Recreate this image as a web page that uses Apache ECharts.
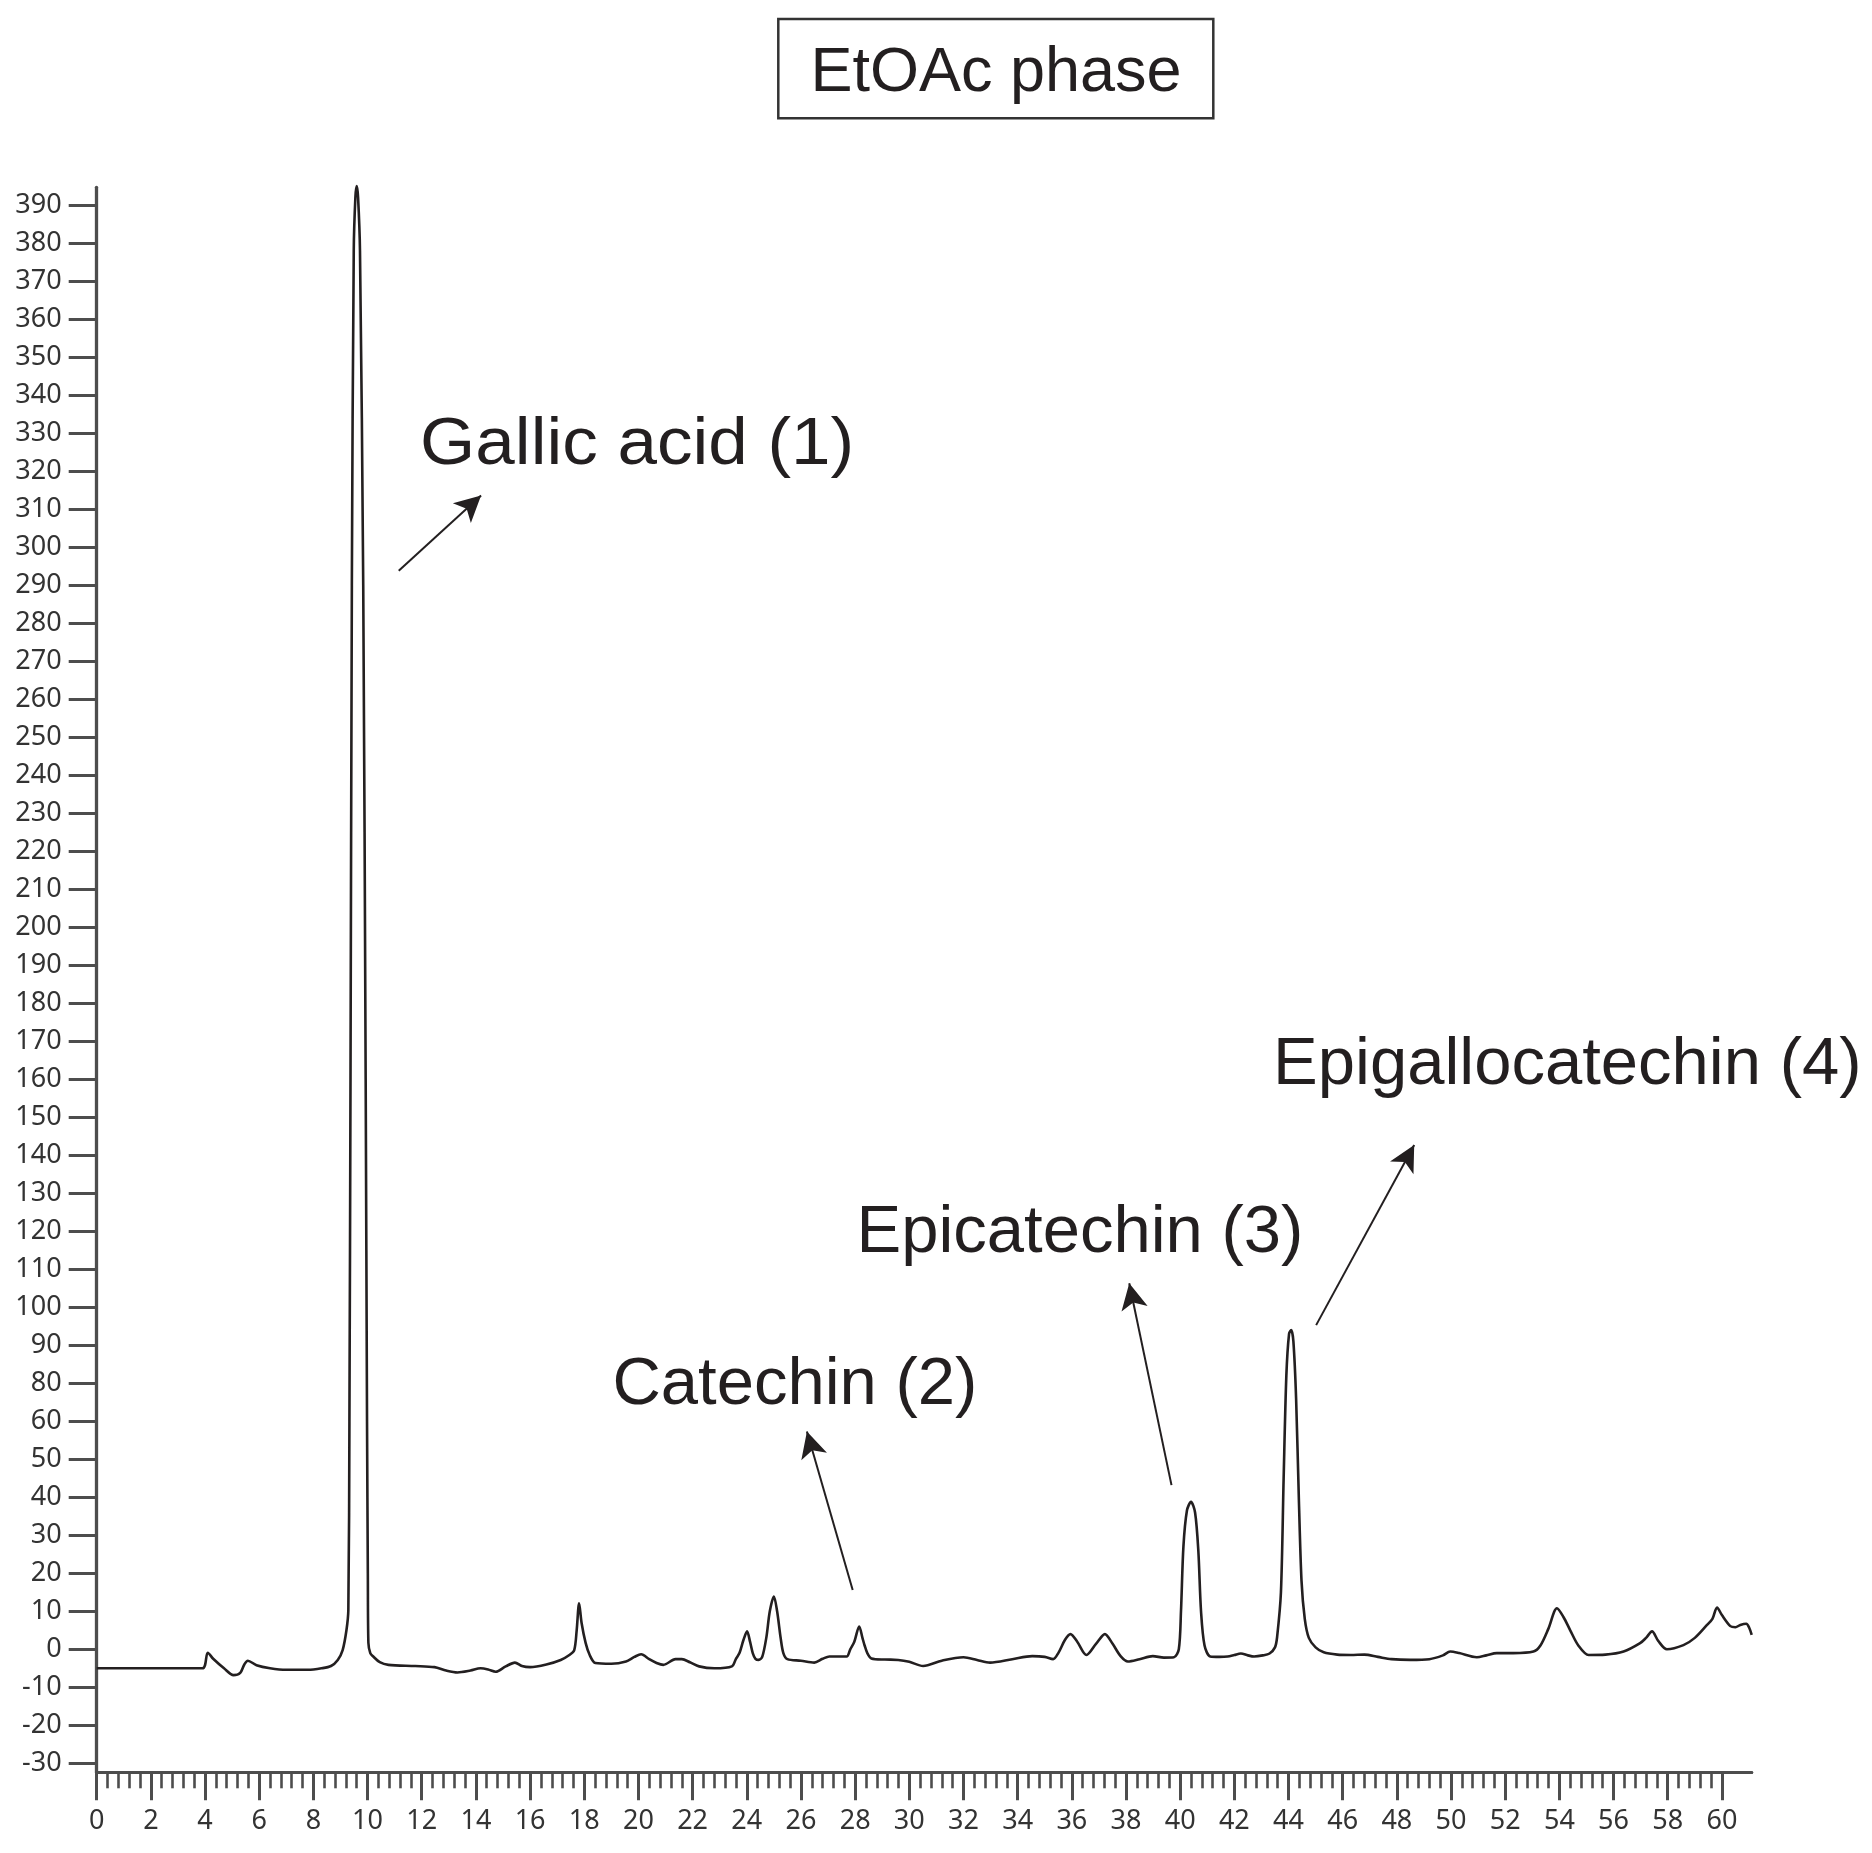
<!DOCTYPE html>
<html><head><meta charset="utf-8">
<script src="https://cdn.jsdelivr.net/npm/echarts@6/dist/echarts.min.js"></script>
<style>html,body{margin:0;padding:0;background:#fff}#c{width:1872px;height:1853px}</style>
</head><body><div id="c"></div>
<script>
const chartTitle = 'EtOAc phase';

// retention time (min)
const retentionTime = [
 0, 3.9, 4.1, 4.3, 4.7, 5.05, 5.3, 5.45, 5.58, 5.9, 6.4, 7.0, 7.8, 8.3, 8.65, 8.9, 9.08, 9.22, 9.29,
 9.33, 9.37, 9.42, 9.49, 9.55, 9.60, 9.65, 9.72, 9.84, 9.93, 9.98, 10.01, 10.03, 10.1, 10.21, 10.45,
 10.77, 11.76, 12.47, 12.9, 13.32, 13.8, 14.17, 14.45, 14.73, 15.1, 15.44, 15.7, 16.0, 16.6, 17.13,
 17.45, 17.63, 17.72, 17.81, 17.9, 18.05, 18.2, 18.41, 19.0, 19.54, 19.85, 20.1, 20.4, 20.67, 20.92,
 21.37, 21.6, 21.9, 22.24, 22.8, 23.45, 23.6, 23.73, 23.88, 24.01, 24.12, 24.22, 24.32, 24.44, 24.57,
 24.72, 24.85, 25.0, 25.12, 25.25, 25.35, 25.5, 26.0, 26.49, 26.8, 27.05, 27.4, 27.69, 27.82, 27.97,
 28.15, 28.27, 28.35, 28.45, 28.6, 29.1, 29.59, 30.0, 30.51, 31.2, 32.0, 32.5, 32.98, 33.8, 34.54,
 35.0, 35.31, 35.5, 35.75, 35.95, 36.2, 36.54, 36.9, 37.22, 37.5, 37.8, 38.07, 38.5, 38.99, 39.4,
 39.77, 39.95, 40.03, 40.12, 40.25, 40.4, 40.55, 40.67, 40.77, 40.9, 41.11, 41.45, 41.75, 42.0,
 42.24, 42.5, 42.73, 43.05, 43.3, 43.5, 43.58, 43.72, 43.82, 43.92, 44.02, 44.1, 44.18, 44.28,
 44.38, 44.48, 44.6, 44.75, 45.0, 45.3, 45.8, 46.3, 46.8, 47.3, 47.8, 48.5, 49.2, 49.7, 49.97,
 50.3, 50.95, 51.3, 51.69, 52.3, 53.04, 53.3, 53.6, 53.91, 54.15, 54.4, 54.7, 55.08, 55.7, 56.37,
 56.98, 57.2, 57.42, 57.65, 57.97, 58.58, 59.0, 59.45, 59.65, 59.82, 60.0, 60.31, 60.5, 60.68,
 60.9, 61.0, 61.1
];
// detector signal (in axis position units)
const signal = [
 -5.0, -5.0, -0.9, -2.5, -5.0, -6.8, -6.2, -4.0, -3.0, -4.2, -5.0, -5.4, -5.4, -5.0, -4.4, -2.8, -0.2, 5, 10.3,
 60, 150, 280, 368, 382, 385, 382, 368, 280, 150, 60, 20, 1.7, -1.0, -1.9, -3.4,
 -4.1, -4.4, -4.7, -5.6, -6.1, -5.6, -5.0, -5.3, -5.9, -4.5, -3.5, -4.4, -4.7, -4.0, -2.8,
 -1.5, -0.2, 5, 12.1, 7, 1.7, -1.5, -3.6, -3.8, -3.2, -2.0, -1.3, -2.6, -3.6, -4.1,
 -2.6, -2.6, -3.4, -4.5, -5.0, -4.5, -2.5, -1.0, 2.5, 4.7, 2, -1.0, -2.5, -2.8, -2.0,
 3, 10, 13.9, 10, 3, -1.0, -2.6, -3.0, -3.5, -2.5, -1.9, -1.9, -1.9, 0, 2,
 6.0, 3, 1.0, -1.0, -2.4, -2.7, -2.8, -3.3, -4.4, -3.0, -2.1, -2.8, -3.5, -2.6, -1.8,
 -2.0, -2.6, -1, 2.5, 4.0, 2.0, -1.5, 1.5, 4.0, 1.5, -1.8, -3.2, -2.6, -1.8, -2.2,
 -2.1, 0, 10, 27, 36.5, 38.8, 36, 26, 10, 1, -1.9, -2.0, -1.9, -1.5,
 -1.1, -1.6, -1.9, -1.6, -1.1, 0.5, 3.3, 15, 45, 72, 83, 84, 81, 66,
 40, 18, 8, 3, 0.5, -0.8, -1.4, -1.5, -1.4, -2.0, -2.6, -2.8, -2.6, -1.6, -0.6,
 -1.0, -2.1, -1.6, -1.0, -1.0, -0.6, 1.0, 5.5, 10.8, 8.5, 5.0, 1.0, -1.5, -1.4, -0.6,
 1.6, 3.0, 4.7, 2.2, 0.0, 1.1, 3.0, 6.4, 8, 11.0, 9.0, 6.1, 5.8, 6.4,
 6.7, 5.8, 3.8
];

const xTickValues = [];
for (let v = 0; v <= 60; v += 2) xTickValues.push(v);
const xMinorTickValues = [];
for (let i = 1; i < 150; i++) { if (i % 5 !== 0) xMinorTickValues.push(+(i * 0.4).toFixed(1)); }
const yTickValues = [];
for (let v = -30; v <= 380; v += 10) yTickValues.push(v);

const peakNames = ['Gallic acid (1)', 'Catechin (2)', 'Epicatechin (3)', 'Epigallocatechin (4)'];
const peakLabelX = [11.94, 19.04, 28.05, 43.43];
const peakLabelY = [312.1, 64.7, 104.6, 148.9];
const peakLabelStretch = [1.06, 1, 1, 1];
const arrowFromX = [11.15, 27.91, 39.68, 45.02];
const arrowFromY = [283.8, 15.6, 43.2, 85.3];
const arrowToX = [14.19, 26.22, 38.12, 48.64];
const arrowToY = [303.6, 57.3, 96.3, 132.7];

const AX = '#4d4d4d';
const TXT = '#231f20';
const tickFont = { fontFamily: 'Noto Sans', fontSize: 27, color: '#333' };

const chart = echarts.init(document.getElementById('c'), null, { renderer: 'canvas' });
const option = {
  animation: false,
  backgroundColor: '#fff',
  grid: { left: 96.7, right: 120.3, top: 187.3, bottom: 80.7, containLabel: false },
  xAxis: [{
    type: 'value', min: 0, max: 61.1, position: 'bottom',
    axisLine: { show: true, onZero: false, lineStyle: { color: AX, width: 3 } },
    axisTick: { show: true, customValues: xTickValues, length: 28, inside: false, lineStyle: { color: AX, width: 3 } },
    axisLabel: Object.assign({ customValues: xTickValues, margin: 36 }, tickFont),
    splitLine: { show: false }
  }, {
    type: 'value', min: 0, max: 61.1, position: 'bottom', offset: 0, gridIndex: 0,
    axisLine: { show: true, onZero: false, lineStyle: { color: AX, width: 3 } },
    axisTick: { show: true, customValues: xMinorTickValues, length: 16, inside: false, lineStyle: { color: AX, width: 2.6 } },
    axisLabel: { show: false },
    splitLine: { show: false }
  }],
  yAxis: {
    type: 'value', min: -32.37, max: 384.7,
    axisLine: { show: true, onZero: false, lineStyle: { color: AX, width: 3.3 } },
    axisTick: { show: true, customValues: yTickValues, length: 28, inside: false, lineStyle: { color: AX, width: 3 } },
    axisLabel: Object.assign({ customValues: yTickValues, margin: 35,
      formatter: v => String(v >= 70 ? v + 10 : v) }, tickFont),
    splitLine: { show: false }
  },
  series: [{
    type: 'line',
    xAxisIndex: 0,
    data: retentionTime.map((t, i) => [t, signal[i]]),
    showSymbol: false, symbol: 'none',
    smooth: 0.3,
    clip: false,
    lineStyle: { color: TXT, width: 2.6 },
    silent: true,
    markLine: {
      silent: true,
      symbol: ['none', 'arrow'],
      symbolSize: [20, 26],
      lineStyle: { color: TXT, width: 2, type: 'solid' },
      label: { show: false },
      emphasis: { disabled: true },
      data: arrowFromX.map((x, i) => [
        { coord: [x, arrowFromY[i]] },
        { coord: [arrowToX[i], arrowToY[i]] }
      ])
    }
  }],
  graphic: [
    { type: 'rect', shape: { x: 778.3, y: 19, width: 435, height: 99.3 },
      style: { fill: '#fff', stroke: '#333', lineWidth: 2.5 } },
    { type: 'text', style: { text: chartTitle, x: 996, y: 74, font: '63px "Liberation Sans"',
      fontSize: 63, fontFamily: 'Liberation Sans', fill: TXT,
      align: 'center', verticalAlign: 'middle', textAlign: 'center', textVerticalAlign: 'middle' } }
  ]
};
chart.setOption(option);

const annot = peakNames.map((name, i) => {
  const p = chart.convertToPixel({ gridIndex: 0 }, [peakLabelX[i], peakLabelY[i]]);
  return { type: 'text', x: p[0], y: p[1] - 18, scaleX: peakLabelStretch[i], scaleY: 1,
    style: { text: name, x: 0, y: 0, font: '67px "Liberation Sans"',
    fontSize: 67, fontFamily: 'Liberation Sans', fill: TXT,
    align: 'left', verticalAlign: 'middle', textAlign: 'left', textVerticalAlign: 'middle' } };
});
chart.setOption({ graphic: option.graphic.concat(annot) });
</script></body></html>
